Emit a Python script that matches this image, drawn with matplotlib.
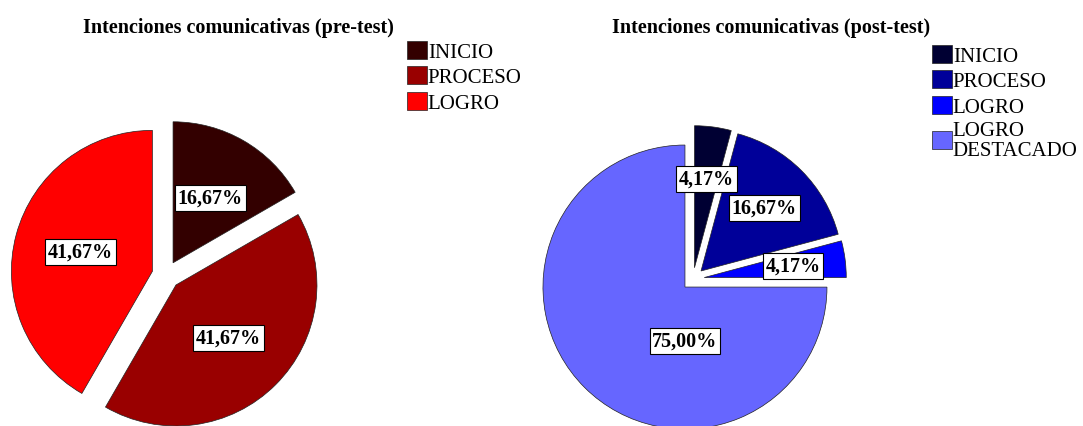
import matplotlib
matplotlib.use("Agg")
import matplotlib.pyplot as plt

# ---- data ----
pre_categories = ["INICIO", "PROCESO", "LOGRO"]
pre_values = [16.67, 41.67, 41.67]
pre_colors = ["#330000", "#990000", "#FF0000"]
pre_title = "Intenciones comunicativas (pre-test)"

post_categories = ["INICIO", "PROCESO", "LOGRO", "LOGRO\nDESTACADO"]
post_values = [4.17, 16.67, 4.17, 75.00]
post_colors = ["#000033", "#000099", "#0000FF", "#6666FF"]
post_title = "Intenciones comunicativas (post-test)"

plt.rcParams['font.family'] = ['Liberation Serif', 'DejaVu Serif']

W, H = 1083, 427
fig = plt.figure(figsize=(W / 100, H / 100), dpi=100)
ax = fig.add_axes([0, 0, 1, 1])


def fmt_iter(vals):
    it = iter(vals)
    return lambda p: f"{next(it):.2f}%".replace(".", ",")


label_bbox = dict(boxstyle="square,pad=0.14", facecolor="white",
                  edgecolor="black", linewidth=0.8)

# pre-test pie
R1 = 141
w_pre, _, at_pre = ax.pie(
    pre_values, colors=pre_colors, startangle=90, counterclock=False,
    explode=[0.1 * R1] * len(pre_values), center=(166, 151), radius=R1,
    autopct=fmt_iter(pre_values), pctdistance=0.53,
    wedgeprops=dict(edgecolor="#222222", linewidth=0.5), frame=True)
for t in at_pre:
    t.set_fontsize(14.5)
    t.set_fontweight("bold")
    t.set_bbox(label_bbox)

# post-test pie
R2 = 142
w_post, _, at_post = ax.pie(
    post_values, colors=post_colors, startangle=90, counterclock=False,
    explode=[0.08 * R2] * len(post_values), center=(693, 147), radius=R2,
    autopct=fmt_iter(post_values), pctdistance=0.63,
    wedgeprops=dict(edgecolor="#222222", linewidth=0.5), frame=True)
for t in at_post:
    t.set_fontsize(14.5)
    t.set_fontweight("bold")
    t.set_bbox(label_bbox)
# the large slice label sits straight below its centre
big = w_post[3]
cx, cy = big.center
at_post[3].set_position((cx, cy - 0.38 * big.r))

ax.set_xlim(0, W)
ax.set_ylim(0, H)
ax.set_aspect("equal")
ax.axis("off")

# titles
fig.text(238 / W, 1 - 28 / H, pre_title, ha="center", va="center",
         fontsize=14.5, fontweight="bold")
fig.text(771 / W, 1 - 28 / H, post_title, ha="center", va="center",
         fontsize=14.5, fontweight="bold")

leg_kw = dict(frameon=False, loc="upper left", fontsize=15,
              handlelength=0.95, handleheight=0.95, handletextpad=0.05,
              labelspacing=0.2, borderpad=0, borderaxespad=0,
              bbox_transform=fig.transFigure)
leg1 = ax.legend(w_pre, pre_categories,
                 bbox_to_anchor=(407 / W, 1 - 42 / H), **leg_kw)
ax.add_artist(leg1)
leg2 = ax.legend(w_post, post_categories,
                 bbox_to_anchor=(932 / W, 1 - 46 / H), **leg_kw)
for t in leg2.get_texts():
    t.set_linespacing(1.05)

fig.savefig("out.png", dpi=100, facecolor="white")
